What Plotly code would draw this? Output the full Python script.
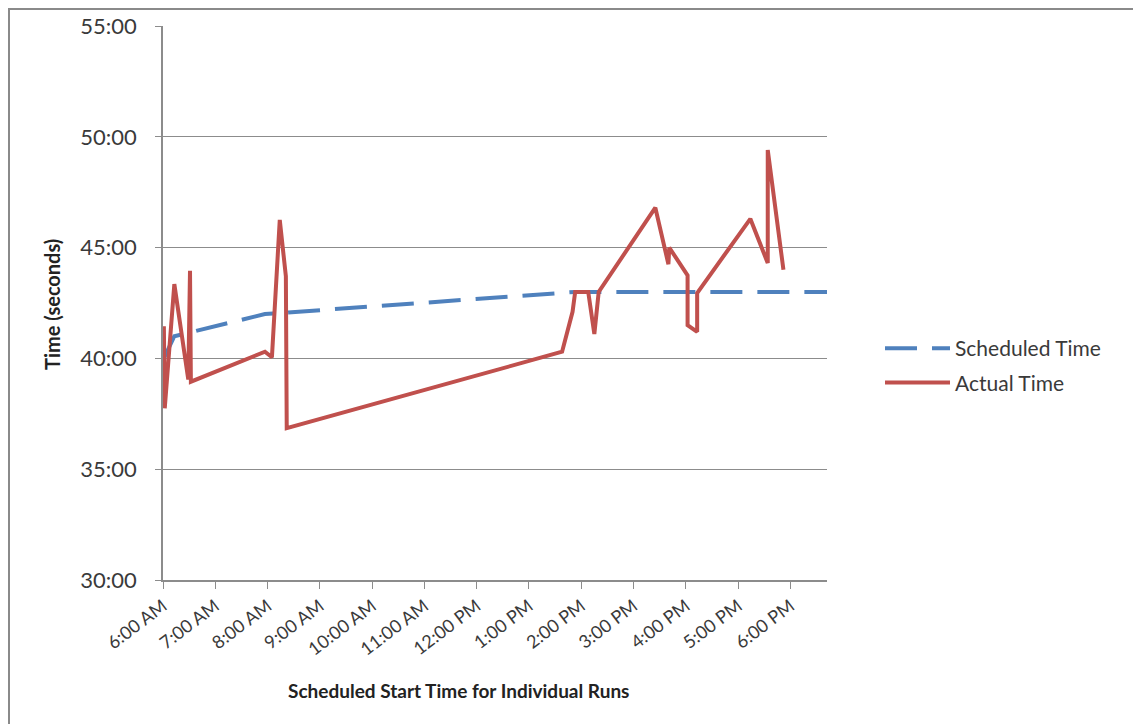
import plotly.graph_objects as go

# ---- data ----
sched_times = ["06:01", "06:13", "07:57", "13:53", "18:42"]
sched_minutes = [40.0, 41.0, 42.0, 43.0, 43.0]

actual_times = ["06:01", "06:02", "06:13", "06:29", "06:31", "06:32", "07:57", "08:05",
                "08:14", "08:21", "08:22", "13:38", "13:50", "13:53", "14:08", "14:15",
                "14:20", "15:25", "15:40", "15:41", "16:02", "16:02", "16:13", "16:13",
                "17:14", "17:34", "17:34", "17:52"]
actual_minutes = [41.45, 37.75, 43.35, 39.05, 43.95, 38.95, 40.3, 40.05,
                  46.25, 43.7, 36.85, 40.3, 42.1, 43.0, 43.0, 41.1,
                  43.0, 46.8, 44.25, 45.0, 43.75, 41.5, 41.2, 42.95,
                  46.3, 44.3, 49.4, 44.0]

y_tick_vals = [30, 35, 40, 45, 50, 55]
y_tick_text = ["30:00", "35:00", "40:00", "45:00", "50:00", "55:00"]

DAY = "2000-01-01 "
def to_dt(ts):
    return [DAY + t for t in ts]

# ---- layout geometry (reference-page pixels; page body has 8px margin) ----
OFF = 8
W, H = 1141 - OFF, 724 - OFF
L, R, T, B = 163, 827, 26, 580          # plot area in page pixels
pw, ph = R - L, B - T
def px(x):
    return (x - L) / pw
def py(y):
    return (B - y) / ph

FONT = "Lato, 'Open Sans', sans-serif"
TXT = "#3a3a3a"
GRID = "#8c8c8c"

fig = go.Figure()
fig.add_trace(go.Scatter(
    x=to_dt(sched_times), y=sched_minutes, mode="lines", name="Scheduled Time",
    legendgroup="s",
    line=dict(color="#4F81BD", width=4, dash="32px,15px"),
))
fig.add_trace(go.Scatter(
    x=to_dt(actual_times), y=actual_minutes, mode="lines", name="Actual Time",
    legendgroup="a",
    line=dict(color="#C0504D", width=4),
))

fig.update_layout(
    width=W, height=H,
    margin=dict(l=L - OFF, r=W - (R - OFF), t=T - OFF, b=H - (B - OFF), autoexpand=False),
    paper_bgcolor="white", plot_bgcolor="white",
    font=dict(family=FONT, color=TXT, size=20),
    showlegend=True,
    legend=dict(x=px(880), y=py(328), xanchor="left", yanchor="top",
                font=dict(size=21, color=TXT), itemwidth=65,
                tracegroupgap=4, bgcolor="rgba(0,0,0,0)"),
    xaxis=dict(
        type="date",
        range=[DAY + "06:00", DAY + "18:42"],
        tick0=DAY + "06:00", dtick=3600000,
        tickformat="%-I:%M %p",
        tickangle=-37,
        ticks="outside", ticklen=7, tickcolor=GRID, tickwidth=1,
        showline=True, linecolor=GRID, linewidth=1.5,
        showgrid=False, zeroline=False, automargin=False,
        tickfont=dict(size=18, color=TXT, family=FONT),
    ),
    yaxis=dict(
        range=[30, 55],
        tickvals=y_tick_vals, ticktext=y_tick_text,
        ticks="outside", ticklen=6, tickcolor=GRID, tickwidth=1,
        showline=True, linecolor=GRID, linewidth=1.5,
        showgrid=True, gridcolor=GRID, gridwidth=1,
        zeroline=False, automargin=False,
        ticklabelstandoff=14,
        tickfont=dict(size=22, color=TXT, family=FONT),
    ),
    annotations=[
        dict(text="<b>Scheduled Start Time for Individual Runs</b>",
             xref="paper", yref="paper", x=px(458), y=py(690),
             xanchor="center", yanchor="middle", showarrow=False,
             font=dict(size=19, color="#222", family=FONT)),
        dict(text="<b>Time (seconds)</b>", textangle=-90,
             xref="paper", yref="paper", x=px(52), y=py(305),
             xanchor="center", yanchor="middle", showarrow=False,
             font=dict(size=20, color="#222", family=FONT)),
    ],
    shapes=[
        dict(type="rect", xref="paper", yref="paper",
             x0=px(9), x1=px(1137), y0=py(740), y1=py(9),
             line=dict(color="#8a8a8a", width=2), fillcolor="rgba(0,0,0,0)",
             layer="below"),
    ],
)

fig.write_html("out.html")
